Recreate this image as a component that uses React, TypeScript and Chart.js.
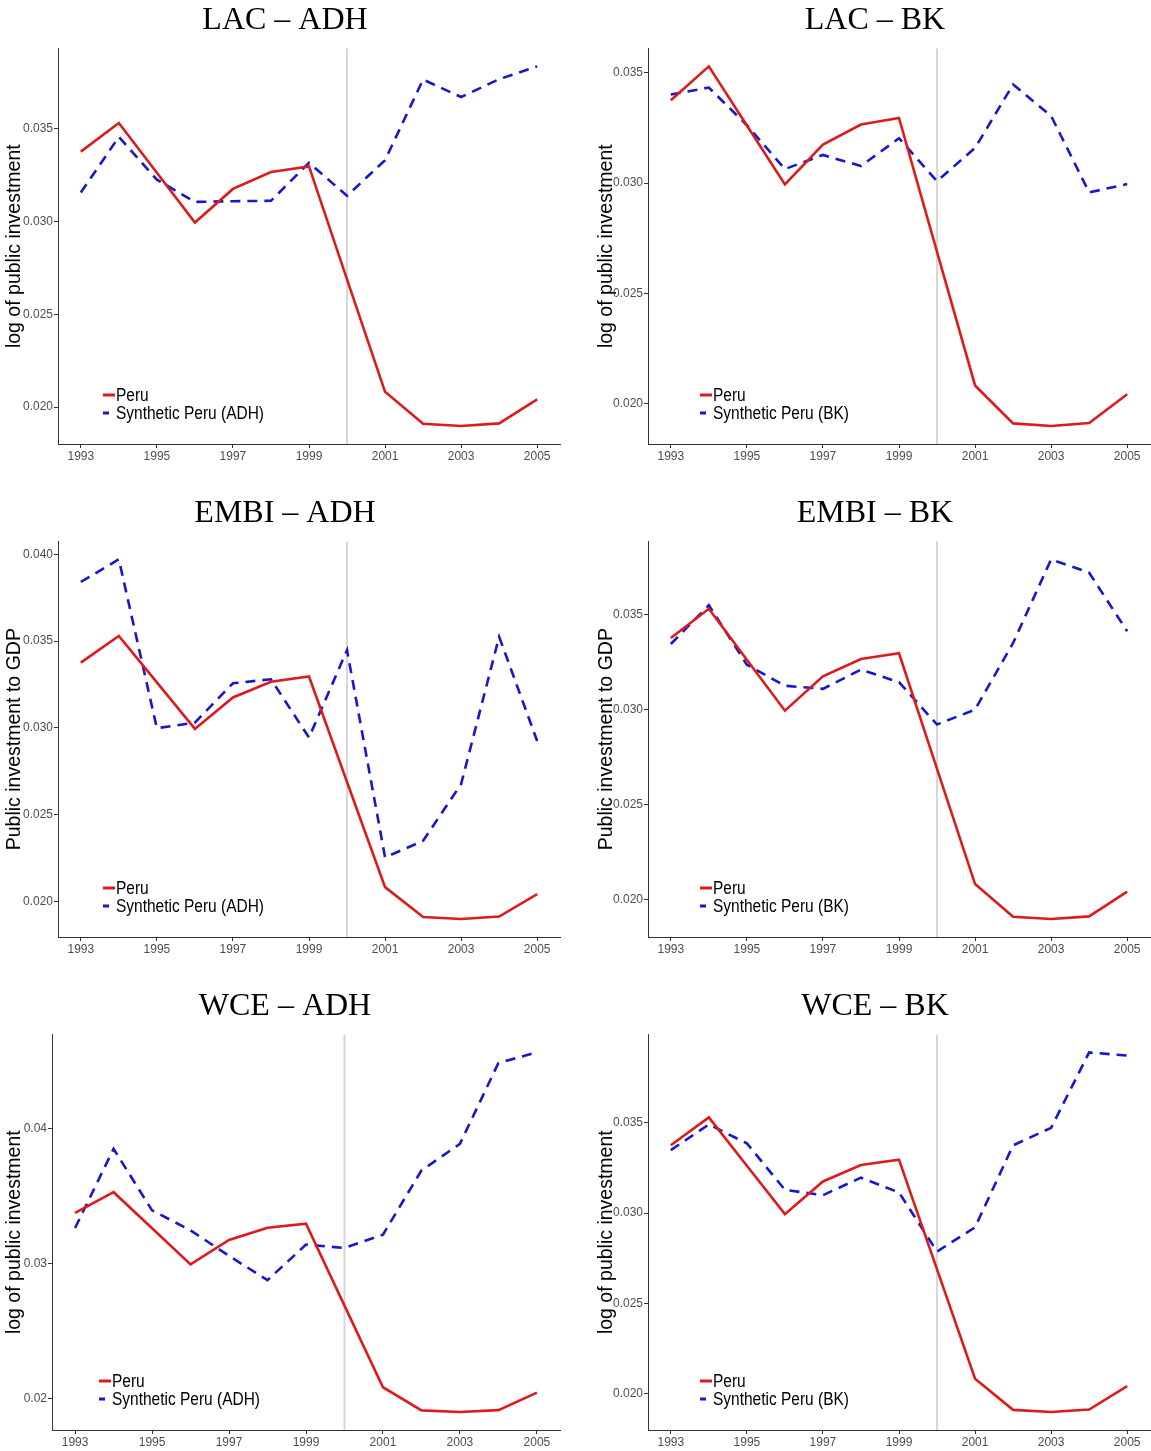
import { useEffect, useRef } from "react";
import { Chart, registerables } from "chart.js";

Chart.register(...registerables);

const years = [1993, 1994, 1995, 1996, 1997, 1998, 1999, 2000, 2001, 2002, 2003, 2004, 2005];
const xTicks = [1993, 1995, 1997, 1999, 2001, 2003, 2005];
const treatmentYear = 2000;

const peru = [0.03376, 0.0353, 0.03262, 0.02994, 0.03175, 0.03266, 0.03296, 0.02688, 0.02082, 0.0191, 0.01898, 0.01912, 0.02042];
const lacAdh = [0.03156, 0.03455, 0.03225, 0.03105, 0.03109, 0.03111, 0.03316, 0.03138, 0.0333, 0.03764, 0.0367, 0.03766, 0.03835];
const lacBk = [0.03402, 0.03434, 0.03263, 0.03064, 0.03128, 0.03078, 0.03204, 0.03009, 0.0316, 0.03448, 0.03305, 0.02958, 0.02996];
const embiAdh = [0.03841, 0.03971, 0.02998, 0.0303, 0.03257, 0.0328, 0.02944, 0.03448, 0.02253, 0.02349, 0.02676, 0.03525, 0.02924];
const embiBk = [0.03345, 0.03549, 0.03236, 0.03125, 0.03109, 0.0321, 0.03144, 0.02921, 0.03, 0.0335, 0.0379, 0.0372, 0.03412];
const wceAdh = [0.03264, 0.03852, 0.03395, 0.03247, 0.03057, 0.02877, 0.03141, 0.03116, 0.03215, 0.03691, 0.03889, 0.04489, 0.04568];
const wceBk = [0.03349, 0.03491, 0.03386, 0.03129, 0.03099, 0.03196, 0.03114, 0.02787, 0.02921, 0.03375, 0.03472, 0.0389, 0.03872];

const yTicksA = [0.02, 0.025, 0.03, 0.035];
const yTicksB = [0.02, 0.025, 0.03, 0.035, 0.04];
const yTicksC = [0.02, 0.03, 0.04];

const RED = "#DE1B1B";
const BLUE = "#1717CC";
const SANS = '"Liberation Sans", Arial, sans-serif';

// vertical line at the treatment year
const markerPlugin = {
  id: "marker",
  beforeDatasetsDraw(chart: any) {
    const { ctx, chartArea, scales } = chart;
    const x = scales.x.getPixelForValue(treatmentYear);
    ctx.save();
    ctx.strokeStyle = "#D6D6D6";
    ctx.lineWidth = 2;
    ctx.beginPath();
    ctx.moveTo(x, chartArea.top);
    ctx.lineTo(x, chartArea.bottom);
    ctx.stroke();
    ctx.restore();
  },
};

// legend drawn inside the plot, bottom left (text squeezed like a narrow face)
const insetLegend = {
  id: "insetLegend",
  afterDraw(chart: any, _args: any, opts: any) {
    const { ctx, chartArea } = chart;
    const x0 = chartArea.left + opts.offsetX;
    ctx.save();
    ctx.font = "18px " + SANS;
    ctx.textBaseline = "middle";
    chart.data.datasets.forEach((ds: any, i: number) => {
      const y = chartArea.bottom - 49 + i * 18;
      ctx.strokeStyle = ds.borderColor;
      ctx.lineWidth = 3;
      ctx.setLineDash([]);
      ctx.beginPath();
      ctx.moveTo(x0, y);
      ctx.lineTo(x0 + (ds.borderDash ? 6 : 12), y);
      ctx.stroke();
      ctx.save();
      ctx.translate(x0 + 13, y + 1);
      ctx.scale(0.86, 1);
      ctx.fillStyle = "#000";
      ctx.fillText(ds.label, 0, 0);
      ctx.restore();
    });
    ctx.restore();
  },
};

type Panel = {
  title: string;
  yTitle: string;
  synth: number[];
  synthLabel: string;
  yTicks: number[];
  digits: number;
  left: number;
  top: number;
  width: number;
  height: number;
  axisWidth: number;
  rightGap: number;
  yTitlePad: number;
  legendX: number;
};

const LEFT = { left: 0, width: 570, axisWidth: 58, rightGap: 10, yTitlePad: 3, legendX: 45 };
const RIGHT = { left: 595, width: 560, axisWidth: 53, rightGap: 5, yTitlePad: 0, legendX: 52 };

const panels: Panel[] = [
  { ...LEFT, title: "LAC – ADH", yTitle: "log of public investment", synth: lacAdh, synthLabel: "Synthetic Peru (ADH)", yTicks: yTicksA, digits: 3, top: 0, height: 493 },
  { ...RIGHT, title: "LAC – BK", yTitle: "log of public investment", synth: lacBk, synthLabel: "Synthetic Peru (BK)", yTicks: yTicksA, digits: 3, top: 0, height: 493 },
  { ...LEFT, title: "EMBI – ADH", yTitle: "Public investment to GDP", synth: embiAdh, synthLabel: "Synthetic Peru (ADH)", yTicks: yTicksB, digits: 3, top: 493, height: 493 },
  { ...RIGHT, title: "EMBI – BK", yTitle: "Public investment to GDP", synth: embiBk, synthLabel: "Synthetic Peru (BK)", yTicks: yTicksA, digits: 3, top: 493, height: 493 },
  { ...LEFT, axisWidth: 52, legendX: 47, title: "WCE – ADH", yTitle: "log of public investment", synth: wceAdh, synthLabel: "Synthetic Peru (ADH)", yTicks: yTicksC, digits: 2, top: 986, height: 465 },
  { ...RIGHT, title: "WCE – BK", yTitle: "log of public investment", synth: wceBk, synthLabel: "Synthetic Peru (BK)", yTicks: yTicksA, digits: 3, top: 986, height: 465 },
];

const SynthPlot = ({ p }: { p: Panel }) => {
  const canvasRef: any = useRef(null);
  useEffect(() => {
    const all = [...peru, ...p.synth];
    const lo = Math.min(...all);
    const hi = Math.max(...all);
    const pad = (hi - lo) * 0.05;
    const xPad = (years[years.length - 1] - years[0]) * 0.05;

    const chart = new Chart(canvasRef.current, {
      type: "line",
      data: {
        datasets: [
          {
            label: "Peru",
            data: years.map((yr, i) => ({ x: yr, y: peru[i] })),
            borderColor: RED,
            borderWidth: 2.6,
            pointRadius: 0,
            tension: 0,
            fill: false,
          },
          {
            label: p.synthLabel,
            data: years.map((yr, i) => ({ x: yr, y: p.synth[i] })),
            borderColor: BLUE,
            borderWidth: 2.6,
            borderDash: [10, 7],
            pointRadius: 0,
            tension: 0,
            fill: false,
          },
        ],
      },
      options: {
        animation: false,
        responsive: false,
        layout: { padding: 0 },
        plugins: {
          legend: { display: false },
          tooltip: { enabled: false },
          title: {
            display: true,
            text: p.title,
            color: "#000",
            font: { family: '"Liberation Serif", "Times New Roman", serif', size: 32, weight: "normal" },
            padding: { top: 1, bottom: 9 },
          },
          insetLegend: { offsetX: p.legendX },
        } as any,
        scales: {
          x: {
            type: "linear",
            min: years[0] - xPad,
            max: years[years.length - 1] + xPad,
            afterBuildTicks: (s: any) => {
              s.ticks = xTicks.map((v) => ({ value: v }));
            },
            afterFit: (s: any) => {
              s.height = p.height - 444;
            },
            ticks: {
              color: "#4D4D4D",
              font: { family: SANS, size: 12 },
              padding: 1,
              maxRotation: 0,
              callback: (v: any) => String(v),
            },
            grid: { display: true, drawOnChartArea: false, drawTicks: true, tickLength: 4, color: "#333" },
            border: { display: true, color: "#333", width: 1 },
          },
          y: {
            type: "linear",
            min: lo - pad,
            max: hi + pad,
            afterBuildTicks: (s: any) => {
              s.ticks = p.yTicks.map((v) => ({ value: v }));
            },
            afterFit: (s: any) => {
              s.width = p.axisWidth;
            },
            ticks: {
              color: "#4D4D4D",
              font: { family: SANS, size: 12 },
              padding: 1,
              callback: (v: any) => Number(v).toFixed(p.digits),
            },
            grid: { display: true, drawOnChartArea: false, drawTicks: true, tickLength: 4, color: "#333" },
            border: { display: true, color: "#333", width: 1 },
            title: {
              display: true,
              text: p.yTitle,
              color: "#000",
              font: { family: SANS, size: 19.5 },
              padding: { top: p.yTitlePad, bottom: 0 },
            },
          },
          // empty spacer on the right so the title centres like the original
          gap: {
            type: "linear",
            position: "right",
            display: true,
            afterFit: (s: any) => {
              s.width = p.rightGap;
            },
            ticks: { display: false },
            grid: { display: false },
            border: { display: false },
          },
        } as any,
      },
      plugins: [markerPlugin, insetLegend],
    });

    return () => {
      chart.destroy();
    };
  }, [p]);

  return (
    <canvas
      ref={canvasRef}
      width={p.width}
      height={p.height}
      style={{ position: "absolute", left: p.left, top: p.top, width: p.width, height: p.height }}
    />
  );
};

export default function App() {
  return (
    <div style={{ position: "absolute", left: 0, top: 0, width: 1151, height: 1451, overflow: "hidden", background: "#fff" }}>
      {panels.map((p) => (
        <SynthPlot key={p.title} p={p} />
      ))}
    </div>
  );
}
